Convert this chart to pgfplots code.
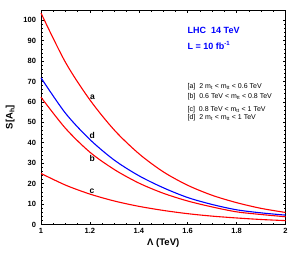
\documentclass[border=0pt]{standalone}
\usepackage{fontspec}
\setmainfont{Liberation Sans}
\usepackage{pgfplots}
\pgfplotsset{compat=1.18}
\begin{document}
\begin{tikzpicture}
\begin{axis}[
  scale only axis,
  width=244.5pt, height=214.5pt,
  xmin=1, xmax=2, ymin=0, ymax=105,
  xtick={1,1.2,1.4,1.6,1.8,2},
  xticklabels={1,1.2,1.4,1.6,1.8,2},
  ytick={0,10,20,30,40,50,60,70,80,90,100},
  minor x tick num=3,
  minor y tick num=4,
  tick align=inside,
  major tick length=3pt,
  minor tick length=1.5pt,
  xtick pos=both, ytick pos=both,
  xticklabel pos=bottom, yticklabel pos=left,
  /pgf/number format/assume math mode=true,
  ticklabel style={font=\fontsize{7.5}{8}\selectfont\bfseries},
  yticklabel style={xshift=-1.5pt},
  xlabel={\bfseries Λ (TeV)},
  ylabel={\bfseries S[A\textsubscript{h}]},
  label style={font=\fontsize{9.5}{10}\selectfont\bfseries},
  xlabel style={yshift=2pt},
  ylabel style={yshift=2pt},
  axis line style={line width=0.9pt},
  every tick/.style={black, line width=0.6pt},
  clip=false,
]
\addplot[red, line width=1.1pt, smooth] coordinates {
 (1.0,103.5) (1.1,79.4) (1.2,61.0) (1.3,46.2) (1.4,34.7) (1.5,25.8)
 (1.6,19.2) (1.7,14.3) (1.8,10.7) (1.9,7.9) (2.0,5.9)};
\addplot[blue, line width=1.1pt, smooth] coordinates {
 (1.0,71.8) (1.1,54.5) (1.2,41.6) (1.3,31.5) (1.4,23.9) (1.5,18.0)
 (1.6,13.2) (1.7,9.8) (1.8,7.2) (1.9,5.7) (2.0,4.6)};
\addplot[red, line width=1.1pt, smooth] coordinates {
 (1.0,62.3) (1.1,47.1) (1.2,35.4) (1.3,26.9) (1.4,20.3) (1.5,15.3)
 (1.6,11.5) (1.7,8.6) (1.8,6.2) (1.9,4.9) (2.0,3.8)};
\addplot[red, line width=1.1pt, smooth] coordinates {
 (1.0,25.0) (1.1,19.3) (1.2,14.9) (1.3,11.5) (1.4,8.9) (1.5,6.9)
 (1.6,5.3) (1.7,4.1) (1.8,3.2) (1.9,2.45) (2.0,1.9)};
\node[font=\fontsize{8.5}{9}\selectfont\bfseries] at (axis cs:1.211,62.2) {a};
\node[font=\fontsize{8.5}{9}\selectfont\bfseries] at (axis cs:1.209,43.7) {d};
\node[font=\fontsize{8.5}{9}\selectfont\bfseries] at (axis cs:1.209,32.3) {b};
\node[font=\fontsize{8.5}{9}\selectfont\bfseries] at (axis cs:1.209,16.3) {c};
\node[anchor=west, text=blue, font=\fontsize{9}{10}\selectfont\bfseries, inner sep=0pt] at (axis cs:1.599,94.9) {LHC\ \ 14 TeV};
\node[anchor=west, text=blue, font=\fontsize{9}{10}\selectfont\bfseries, inner sep=0pt] at (axis cs:1.599,87.6) {L = 10 fb\textsuperscript{-1}};
\node[anchor=west, font=\fontsize{7}{7}\selectfont, inner sep=0pt] at (axis cs:1.599,67.6) {[a]\ \ 2 m\textsubscript{t} < m\textsubscript{tt} < 0.6 TeV};
\node[anchor=west, font=\fontsize{7}{7}\selectfont, inner sep=0pt] at (axis cs:1.599,62.8) {[b]\ \ 0.6 TeV < m\textsubscript{tt} < 0.8 TeV};
\node[anchor=west, font=\fontsize{7}{7}\selectfont, inner sep=0pt] at (axis cs:1.599,56.2) {[c]\ \ 0.8 TeV < m\textsubscript{tt} < 1 TeV};
\node[anchor=west, font=\fontsize{7}{7}\selectfont, inner sep=0pt] at (axis cs:1.599,52.4) {[d]\ \ 2 m\textsubscript{t} < m\textsubscript{tt} < 1 TeV};
\path (rel axis cs:1,1) -- ++(15.5pt,10pt);
\path (rel axis cs:0,0) -- ++(-41pt,-27.5pt);
\end{axis}
\end{tikzpicture}
\end{document}
